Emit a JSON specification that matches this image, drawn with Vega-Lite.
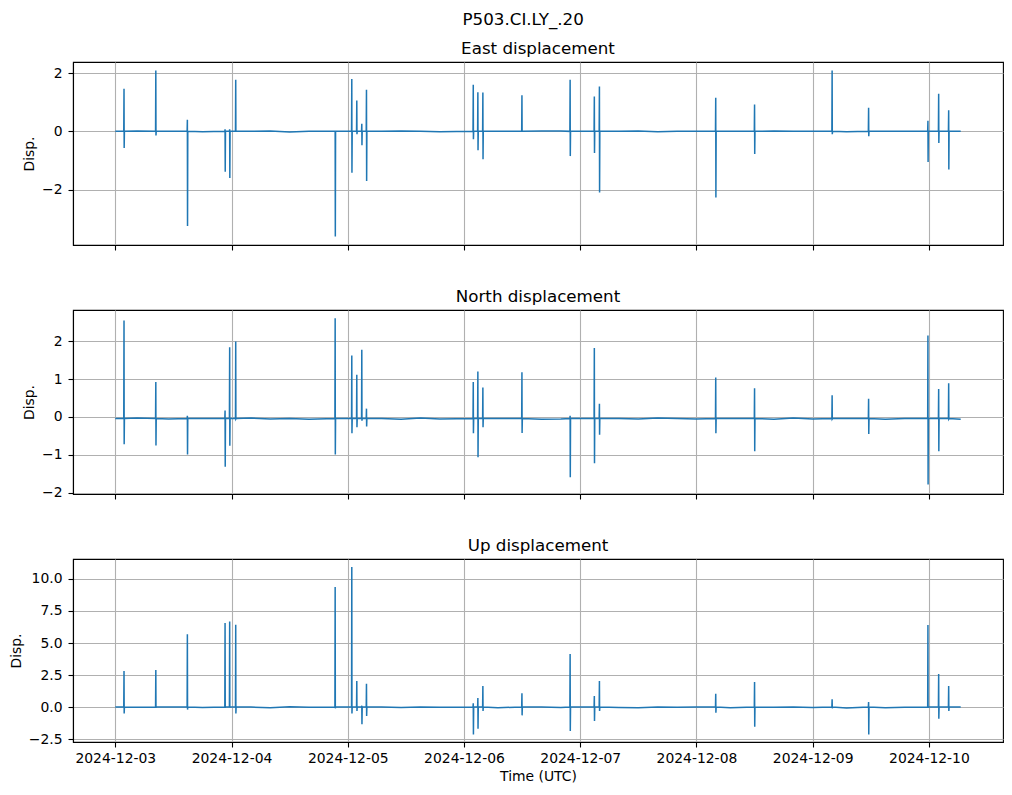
{
"$schema": "https://vega.github.io/schema/vega-lite/v6.json",
"background": "white",
"padding": {"left": 8, "right": 8, "top": 12, "bottom": 5},
"title": {"text": "P503.CI.LY_.20", "fontSize": 16.7, "font": "DejaVu Sans", "fontWeight": "normal", "anchor": "middle", "offset": 12, "dx": 17, "color": "black"},
"data": {"values": [
{"t":"2024-12-03T00:00Z","e":0.0,"n":-0.04,"u":0.0},
{"t":"2024-12-03T04:30Z","e":0.01,"n":-0.03,"u":-0.02},
{"t":"2024-12-03T11:00Z","e":0.0,"n":-0.05,"u":0.01},
{"t":"2024-12-03T18:00Z","e":-0.01,"n":-0.04,"u":-0.03},
{"t":"2024-12-04T04:00Z","e":0.0,"n":-0.03,"u":0.0},
{"t":"2024-12-04T08:00Z","e":0.01,"n":-0.05,"u":-0.05},
{"t":"2024-12-04T12:00Z","e":-0.02,"n":-0.04,"u":0.02},
{"t":"2024-12-04T16:00Z","e":0.0,"n":-0.06,"u":-0.02},
{"t":"2024-12-05T07:00Z","e":0.0,"n":-0.04,"u":0.0},
{"t":"2024-12-05T11:00Z","e":0.01,"n":-0.06,"u":-0.04},
{"t":"2024-12-05T15:00Z","e":0.0,"n":-0.03,"u":0.01},
{"t":"2024-12-05T19:00Z","e":-0.01,"n":-0.05,"u":-0.02},
{"t":"2024-12-06T07:00Z","e":0.0,"n":-0.04,"u":-0.05},
{"t":"2024-12-06T16:00Z","e":0.01,"n":-0.06,"u":0.0},
{"t":"2024-12-06T20:00Z","e":0.01,"n":-0.05,"u":-0.03},
{"t":"2024-12-07T08:00Z","e":0.0,"n":-0.04,"u":-0.04},
{"t":"2024-12-07T12:00Z","e":0.01,"n":-0.05,"u":-0.06},
{"t":"2024-12-07T16:00Z","e":-0.01,"n":-0.03,"u":0.01},
{"t":"2024-12-07T20:00Z","e":0.0,"n":-0.04,"u":-0.02},
{"t":"2024-12-08T00:00Z","e":0.0,"n":-0.05,"u":0.0},
{"t":"2024-12-08T07:00Z","e":0.0,"n":-0.04,"u":-0.05},
{"t":"2024-12-08T16:00Z","e":0.01,"n":-0.06,"u":-0.02},
{"t":"2024-12-08T20:00Z","e":0.0,"n":-0.03,"u":0.0},
{"t":"2024-12-09T00:00Z","e":0.0,"n":-0.05,"u":-0.03},
{"t":"2024-12-09T07:00Z","e":-0.01,"n":-0.04,"u":-0.08},
{"t":"2024-12-09T15:00Z","e":0.0,"n":-0.06,"u":-0.05},
{"t":"2024-12-09T19:00Z","e":0.0,"n":-0.04,"u":-0.02},
{"t":"2024-12-10T06:34Z","e":0.0,"n":-0.06,"u":0.0},

{"t":"2024-12-03T01:45Z","e":0.0,"n":-0.04,"u":0.0},
{"t":"2024-12-03T01:48Z","e":1.46,"n":2.54,"u":2.81},
{"t":"2024-12-03T01:50Z","e":-0.57,"n":-0.72,"u":-0.5},
{"t":"2024-12-03T01:53Z","e":0.0,"n":-0.04,"u":0.0},

{"t":"2024-12-03T08:19Z","e":0.0,"n":-0.04,"u":0.0},
{"t":"2024-12-03T08:22Z","e":2.09,"n":0.92,"u":2.89},
{"t":"2024-12-03T08:24Z","e":-0.14,"n":-0.75,"u":-0.05},
{"t":"2024-12-03T08:27Z","e":0.0,"n":-0.04,"u":0.0},

{"t":"2024-12-03T14:50Z","e":0.0,"n":-0.04,"u":0.0},
{"t":"2024-12-03T14:53Z","e":0.40,"n":0.03,"u":5.68},
{"t":"2024-12-03T14:55Z","e":-3.25,"n":-0.99,"u":-0.2},
{"t":"2024-12-03T14:58Z","e":0.0,"n":-0.04,"u":0.0},

{"t":"2024-12-03T22:37Z","e":0.0,"n":-0.04,"u":0.0},
{"t":"2024-12-03T22:40Z","e":0.07,"n":0.17,"u":6.56},
{"t":"2024-12-03T22:42Z","e":-1.39,"n":-1.31,"u":-0.05},
{"t":"2024-12-03T22:45Z","e":0.0,"n":-0.04,"u":0.0},

{"t":"2024-12-03T23:34Z","e":0.0,"n":-0.04,"u":0.0},
{"t":"2024-12-03T23:37Z","e":0.07,"n":1.84,"u":6.67},
{"t":"2024-12-03T23:39Z","e":-1.6,"n":-0.76,"u":-0.05},
{"t":"2024-12-03T23:42Z","e":0.0,"n":-0.04,"u":0.0},

{"t":"2024-12-04T00:49Z","e":0.0,"n":-0.04,"u":0.0},
{"t":"2024-12-04T00:52Z","e":1.77,"n":1.99,"u":6.43},
{"t":"2024-12-04T00:54Z","e":0.0,"n":-0.05,"u":-0.5},
{"t":"2024-12-04T00:57Z","e":0.0,"n":-0.04,"u":0.0},

{"t":"2024-12-04T21:21Z","e":0.0,"n":-0.04,"u":0.0},
{"t":"2024-12-04T21:24Z","e":0.02,"n":2.6,"u":9.38},
{"t":"2024-12-04T21:26Z","e":-3.61,"n":-0.99,"u":-0.1},
{"t":"2024-12-04T21:29Z","e":0.0,"n":-0.04,"u":0.0},

{"t":"2024-12-05T00:47Z","e":0.0,"n":-0.04,"u":0.0},
{"t":"2024-12-05T00:50Z","e":1.8,"n":1.62,"u":10.94},
{"t":"2024-12-05T00:52Z","e":-1.42,"n":-0.43,"u":-0.5},
{"t":"2024-12-05T00:55Z","e":0.0,"n":-0.04,"u":0.0},

{"t":"2024-12-05T01:49Z","e":0.0,"n":-0.04,"u":0.0},
{"t":"2024-12-05T01:52Z","e":1.06,"n":1.11,"u":2.03},
{"t":"2024-12-05T01:54Z","e":-0.1,"n":-0.27,"u":-0.3},
{"t":"2024-12-05T01:57Z","e":0.0,"n":-0.04,"u":0.0},

{"t":"2024-12-05T02:51Z","e":0.0,"n":-0.04,"u":0.0},
{"t":"2024-12-05T02:54Z","e":0.26,"n":1.77,"u":0.1},
{"t":"2024-12-05T02:56Z","e":-0.48,"n":-0.1,"u":-1.35},
{"t":"2024-12-05T02:59Z","e":0.0,"n":-0.04,"u":0.0},

{"t":"2024-12-05T03:49Z","e":0.0,"n":-0.04,"u":0.0},
{"t":"2024-12-05T03:52Z","e":1.43,"n":0.22,"u":1.82},
{"t":"2024-12-05T03:54Z","e":-1.7,"n":-0.25,"u":-0.7},
{"t":"2024-12-05T03:57Z","e":0.0,"n":-0.04,"u":0.0},

{"t":"2024-12-06T01:52Z","e":0.0,"n":-0.04,"u":0.0},
{"t":"2024-12-06T01:55Z","e":1.6,"n":0.92,"u":0.3},
{"t":"2024-12-06T01:57Z","e":-0.27,"n":-0.43,"u":-2.14},
{"t":"2024-12-06T02:00Z","e":0.0,"n":-0.04,"u":0.0},

{"t":"2024-12-06T02:49Z","e":0.0,"n":-0.04,"u":0.0},
{"t":"2024-12-06T02:52Z","e":1.34,"n":1.2,"u":0.7},
{"t":"2024-12-06T02:54Z","e":-0.65,"n":-1.06,"u":-1.69},
{"t":"2024-12-06T02:57Z","e":0.0,"n":-0.04,"u":0.0},

{"t":"2024-12-06T03:51Z","e":0.0,"n":-0.04,"u":0.0},
{"t":"2024-12-06T03:54Z","e":1.33,"n":0.78,"u":1.64},
{"t":"2024-12-06T03:56Z","e":-0.96,"n":-0.27,"u":-0.3},
{"t":"2024-12-06T03:59Z","e":0.0,"n":-0.04,"u":0.0},

{"t":"2024-12-06T11:55Z","e":0.0,"n":-0.04,"u":0.0},
{"t":"2024-12-06T11:58Z","e":1.24,"n":1.18,"u":1.07},
{"t":"2024-12-06T12:00Z","e":0.02,"n":-0.42,"u":-0.65},
{"t":"2024-12-06T12:03Z","e":0.0,"n":-0.04,"u":0.0},

{"t":"2024-12-06T21:52Z","e":0.0,"n":-0.04,"u":0.0},
{"t":"2024-12-06T21:55Z","e":1.77,"n":0.03,"u":4.14},
{"t":"2024-12-06T21:57Z","e":-0.85,"n":-1.59,"u":-1.88},
{"t":"2024-12-06T22:00Z","e":0.0,"n":-0.04,"u":0.0},

{"t":"2024-12-07T02:52Z","e":0.0,"n":-0.04,"u":0.0},
{"t":"2024-12-07T02:55Z","e":1.2,"n":1.82,"u":0.86},
{"t":"2024-12-07T02:57Z","e":-0.74,"n":-1.22,"u":-1.09},
{"t":"2024-12-07T03:00Z","e":0.0,"n":-0.04,"u":0.0},

{"t":"2024-12-07T03:55Z","e":0.0,"n":-0.04,"u":0.0},
{"t":"2024-12-07T03:58Z","e":1.54,"n":0.35,"u":2.03},
{"t":"2024-12-07T04:00Z","e":-2.1,"n":-0.47,"u":-0.3},
{"t":"2024-12-07T04:03Z","e":0.0,"n":-0.04,"u":0.0},

{"t":"2024-12-08T03:56Z","e":0.0,"n":-0.04,"u":0.0},
{"t":"2024-12-08T03:59Z","e":1.15,"n":1.04,"u":1.04},
{"t":"2024-12-08T04:01Z","e":-2.27,"n":-0.43,"u":-0.44},
{"t":"2024-12-08T04:04Z","e":0.0,"n":-0.04,"u":0.0},

{"t":"2024-12-08T11:57Z","e":0.0,"n":-0.04,"u":0.0},
{"t":"2024-12-08T12:00Z","e":0.92,"n":0.76,"u":1.95},
{"t":"2024-12-08T12:02Z","e":-0.78,"n":-0.9,"u":-1.54},
{"t":"2024-12-08T12:05Z","e":0.0,"n":-0.04,"u":0.0},

{"t":"2024-12-09T03:58Z","e":0.0,"n":-0.04,"u":0.0},
{"t":"2024-12-09T04:01Z","e":2.09,"n":0.57,"u":0.6},
{"t":"2024-12-09T04:03Z","e":-0.1,"n":-0.05,"u":-0.1},
{"t":"2024-12-09T04:06Z","e":0.0,"n":-0.04,"u":0.0},

{"t":"2024-12-09T11:30Z","e":0.0,"n":-0.04,"u":0.0},
{"t":"2024-12-09T11:33Z","e":0.81,"n":0.48,"u":0.4},
{"t":"2024-12-09T11:35Z","e":-0.17,"n":-0.45,"u":-2.14},
{"t":"2024-12-09T11:38Z","e":0.0,"n":-0.04,"u":0.0},

{"t":"2024-12-09T23:45Z","e":0.0,"n":-0.04,"u":0.0},
{"t":"2024-12-09T23:48Z","e":0.36,"n":2.15,"u":6.41},
{"t":"2024-12-09T23:50Z","e":-1.05,"n":-1.78,"u":-0.05},
{"t":"2024-12-09T23:53Z","e":0.0,"n":-0.04,"u":0.0},

{"t":"2024-12-10T01:58Z","e":0.0,"n":-0.04,"u":0.0},
{"t":"2024-12-10T02:01Z","e":1.29,"n":0.74,"u":2.58},
{"t":"2024-12-10T02:03Z","e":-0.4,"n":-0.9,"u":-0.91},
{"t":"2024-12-10T02:06Z","e":0.0,"n":-0.04,"u":0.0},

{"t":"2024-12-10T04:02Z","e":0.0,"n":-0.04,"u":0.0},
{"t":"2024-12-10T04:05Z","e":0.72,"n":0.89,"u":1.64},
{"t":"2024-12-10T04:07Z","e":-1.31,"n":-0.05,"u":-0.3},
{"t":"2024-12-10T04:10Z","e":0.0,"n":-0.04,"u":0.0}
]},
"config": {
  "font": "DejaVu Sans",
  "view": {"stroke": "black", "strokeWidth": 1.1},
  "axis": {"labelFont": "DejaVu Sans", "labelFontSize": 13.9, "labelColor": "black", "titleFont": "DejaVu Sans", "titleFontSize": 13.9, "titleFontWeight": "normal", "titleColor": "black", "tickColor": "black", "tickSize": 5, "tickWidth": 1.1, "domainColor": "black", "domainWidth": 1.1, "gridColor": "#b0b0b0", "gridWidth": 1.1, "gridOpacity": 1, "labelPadding": 6, "titlePadding": 5, "grid": true},
  "title": {"font": "DejaVu Sans", "fontSize": 16.7, "fontWeight": "normal", "color": "black", "baseline": "alphabetic", "offset": 4}
},
"spacing": 36,
"vconcat": [
{
  "title": {"text": "East displacement"},
  "width": 930, "height": 183,
  "mark": {"type": "line", "color": "#1f77b4", "strokeWidth": 1.5, "clip": true},
  "encoding": {
    "x": {"field": "t", "type": "temporal",
      "scale": {"type": "utc", "domain": [{"year": 2024, "month": 12, "date": 2, "hours": 15, "minutes": 16, "utc": true}, {"year": 2024, "month": 12, "date": 10, "hours": 15, "minutes": 18, "utc": true}]},
      "axis": {"labels": false, "title": null, "values": [
        {"year": 2024, "month": 12, "date": 3, "utc": true}, {"year": 2024, "month": 12, "date": 4, "utc": true}, {"year": 2024, "month": 12, "date": 5, "utc": true}, {"year": 2024, "month": 12, "date": 6, "utc": true}, {"year": 2024, "month": 12, "date": 7, "utc": true}, {"year": 2024, "month": 12, "date": 8, "utc": true}, {"year": 2024, "month": 12, "date": 9, "utc": true}, {"year": 2024, "month": 12, "date": 10, "utc": true}]}},
    "y": {"field": "e", "type": "quantitative", "scale": {"domain": [-3.9, 2.38], "nice": false, "zero": false}, "axis": {"title": "Disp.", "values": [-2, 0, 2]}}
  }
},
{
  "title": {"text": "North displacement"},
  "width": 930, "height": 184,
  "mark": {"type": "line", "color": "#1f77b4", "strokeWidth": 1.5, "clip": true},
  "encoding": {
    "x": {"field": "t", "type": "temporal",
      "scale": {"type": "utc", "domain": [{"year": 2024, "month": 12, "date": 2, "hours": 15, "minutes": 16, "utc": true}, {"year": 2024, "month": 12, "date": 10, "hours": 15, "minutes": 18, "utc": true}]},
      "axis": {"labels": false, "title": null, "values": [
        {"year": 2024, "month": 12, "date": 3, "utc": true}, {"year": 2024, "month": 12, "date": 4, "utc": true}, {"year": 2024, "month": 12, "date": 5, "utc": true}, {"year": 2024, "month": 12, "date": 6, "utc": true}, {"year": 2024, "month": 12, "date": 7, "utc": true}, {"year": 2024, "month": 12, "date": 8, "utc": true}, {"year": 2024, "month": 12, "date": 9, "utc": true}, {"year": 2024, "month": 12, "date": 10, "utc": true}]}},
    "y": {"field": "n", "type": "quantitative", "scale": {"domain": [-2.03, 2.82], "nice": false, "zero": false}, "axis": {"title": "Disp.", "values": [-2, -1, 0, 1, 2]}}
  }
},
{
  "title": {"text": "Up displacement"},
  "width": 930, "height": 183,
  "mark": {"type": "line", "color": "#1f77b4", "strokeWidth": 1.5, "clip": true},
  "encoding": {
    "x": {"field": "t", "type": "temporal",
      "scale": {"type": "utc", "domain": [{"year": 2024, "month": 12, "date": 2, "hours": 15, "minutes": 16, "utc": true}, {"year": 2024, "month": 12, "date": 10, "hours": 15, "minutes": 18, "utc": true}]},
      "axis": {"title": "Time (UTC)", "format": "%Y-%m-%d", "labelAngle": 0, "labelPadding": 4, "values": [
        {"year": 2024, "month": 12, "date": 3, "utc": true}, {"year": 2024, "month": 12, "date": 4, "utc": true}, {"year": 2024, "month": 12, "date": 5, "utc": true}, {"year": 2024, "month": 12, "date": 6, "utc": true}, {"year": 2024, "month": 12, "date": 7, "utc": true}, {"year": 2024, "month": 12, "date": 8, "utc": true}, {"year": 2024, "month": 12, "date": 9, "utc": true}, {"year": 2024, "month": 12, "date": 10, "utc": true}]}},
    "y": {"field": "u", "type": "quantitative", "scale": {"domain": [-2.73, 11.56], "nice": false, "zero": false}, "axis": {"title": "Disp.", "values": [-2.5, 0, 2.5, 5, 7.5, 10], "format": ".1f"}}
  }
}
]
}
